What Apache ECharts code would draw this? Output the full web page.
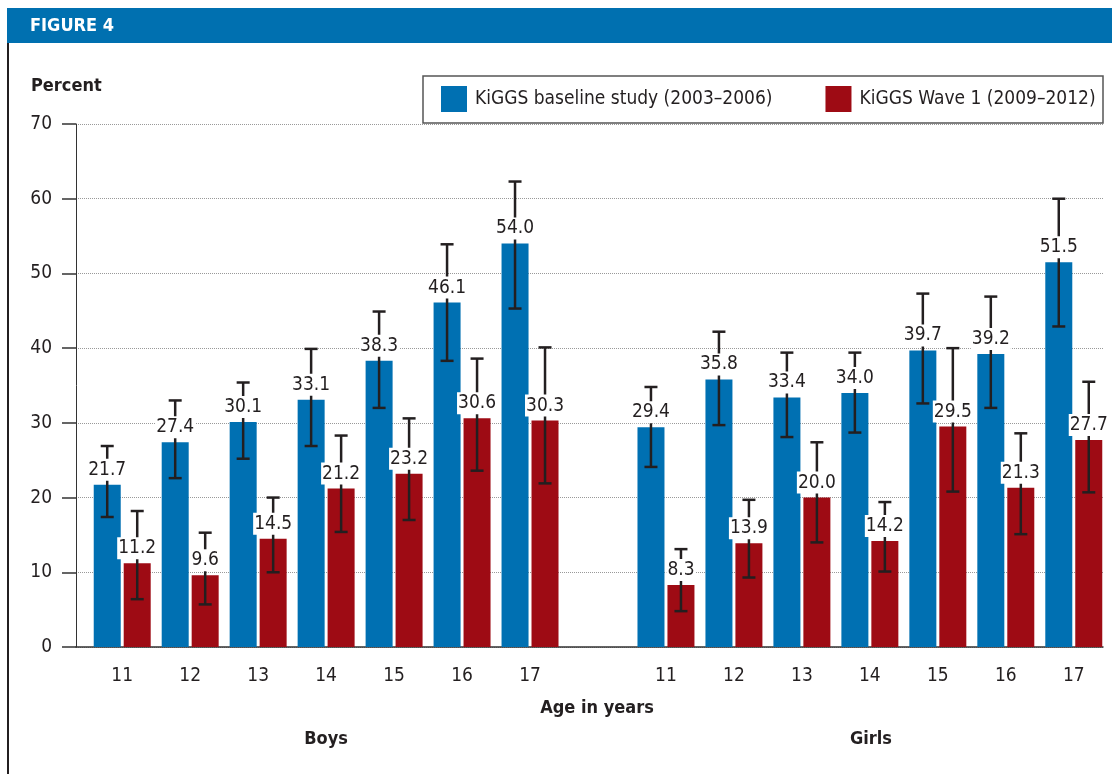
<!DOCTYPE html>
<html>
<head>
    <meta charset="UTF-8"/>
    <title>Figure 4</title>
    <script type="text/javascript" src="https://cdn.jsdelivr.net/npm/echarts@6/dist/echarts.min.js"></script>
    <style>
        html, body { margin: 0; padding: 0; background: #fff; }
        #chart { width: 1112px; height: 774px; }
    </style>
</head>
<body>
<div id="chart"></div>
<script>
    // boys 11-17, empty slot, girls 11-17
    var ages = ['11', '12', '13', '14', '15', '16', '17', '', '11', '12', '13', '14', '15', '16', '17'];
    var baseline = [21.7, 27.4, 30.1, 33.1, 38.3, 46.1, 54.0, null, 29.4, 35.8, 33.4, 34.0, 39.7, 39.2, 51.5];
    var baselineLow = [17.4, 22.6, 25.2, 26.9, 32.0, 38.3, 45.3, null, 24.1, 29.7, 28.1, 28.7, 32.6, 32.0, 42.9];
    var baselineHigh = [26.9, 33.0, 35.4, 39.9, 44.9, 53.9, 62.3, null, 34.8, 42.2, 39.4, 39.4, 47.3, 46.9, 60.0];
    var wave1 = [11.2, 9.6, 14.5, 21.2, 23.2, 30.6, 30.3, null, 8.3, 13.9, 20.0, 14.2, 29.5, 21.3, 27.7];
    var wave1Low = [6.4, 5.7, 10.0, 15.4, 17.0, 23.6, 21.9, null, 4.8, 9.3, 14.0, 10.1, 20.8, 15.1, 20.7];
    var wave1High = [18.2, 15.3, 20.0, 28.3, 30.6, 38.6, 40.1, null, 13.1, 19.7, 27.4, 19.4, 40.0, 28.6, 35.5];
    var seriesNames = ['KiGGS baseline study (2003\u20132006)', 'KiGGS Wave 1 (2009\u20132012)'];

    var FONT = '"Liberation Sans Narrow", "DejaVu Sans Condensed", sans-serif';
    var INK = '#231f20';
    var BLUE = '#0070b2';
    var RED = '#9e0b14';

    function barData(vals) {
        var out = [];
        for (var i = 0; i < vals.length; i++) {
            if (vals[i] != null) out.push([i, vals[i]]);
        }
        return out;
    }
    function errData(vals, lo, hi) {
        var out = [];
        for (var i = 0; i < vals.length; i++) {
            if (vals[i] != null) out.push([i, lo[i], hi[i], vals[i]]);
        }
        return out;
    }
    var tickValues = [];
    for (var k = 0; k < ages.length; k++) {
        if (ages[k] !== '') tickValues.push(k);
    }

    // error bar + value label, shifted to sit on its bar
    function errRender(offset) {
        return function (params, api) {
            var x = api.value(0);
            var lo = api.coord([x, api.value(1)]);
            var hi = api.coord([x, api.value(2)]);
            var mid = api.coord([x, api.value(3)]);
            var cx = lo[0] + offset;
            var lineStyle = { stroke: INK, lineWidth: 2.5 };
            return {
                type: 'group',
                children: [
                    { type: 'line', shape: { x1: cx, y1: hi[1], x2: cx, y2: lo[1] }, style: lineStyle },
                    { type: 'line', shape: { x1: cx - 6.5, y1: hi[1], x2: cx + 6.5, y2: hi[1] }, style: lineStyle },
                    { type: 'line', shape: { x1: cx - 6.5, y1: lo[1], x2: cx + 6.5, y2: lo[1] }, style: lineStyle },
                    {
                        type: 'text',
                        style: {
                            text: api.value(3).toFixed(1),
                            x: cx, y: mid[1] - 15,
                            align: 'center', verticalAlign: 'middle',
                            fontFamily: FONT, fontSize: 19, fill: INK,
                            backgroundColor: '#fff', padding: [2, 1, 1, 1]
                        }
                    }
                ]
            };
        };
    }

    var titleText = { fontFamily: FONT, fontSize: 18, fontWeight: 'bold', color: INK };
    var chart = echarts.init(document.getElementById('chart'));
    chart.setOption({
        animation: false,
        textStyle: { fontFamily: FONT, color: INK },
        graphic: [
            { type: 'rect', shape: { x: 7, y: 8, width: 1105, height: 35 }, style: { fill: '#0070b0' } },
            { type: 'rect', shape: { x: 7, y: 43, width: 2, height: 731 }, style: { fill: INK } },
            { type: 'text', x: 30, y: 26, style: { text: 'FIGURE 4', fill: '#fff', fontFamily: FONT, fontSize: 18, fontWeight: 'bold', verticalAlign: 'middle' } },
            // legend frame
            { type: 'rect', shape: { x: 423, y: 76, width: 680, height: 47 }, style: { fill: 'none', stroke: '#555', lineWidth: 1.5 } }
        ],
        title: [
            { text: 'Percent', left: 31, top: 77, padding: 0, textStyle: titleText },
            { text: 'Age in years', left: 597, top: 699, padding: 0, textAlign: 'center', textStyle: titleText },
            { text: 'Boys', left: 326, top: 730, padding: 0, textAlign: 'center', textStyle: titleText },
            { text: 'Girls', left: 871, top: 730, padding: 0, textAlign: 'center', textStyle: titleText }
        ],
        legend: {
            orient: 'horizontal',
            left: 441, top: 86, padding: 0,
            itemWidth: 26, itemHeight: 26, itemGap: 53,
            icon: 'rect',
            textStyle: { fontFamily: FONT, fontSize: 19, color: INK, padding: [0, 0, 0, 3] },
            data: seriesNames
        },
        grid: { left: 76, right: 9, top: 124, bottom: 127 },
        xAxis: {
            type: 'value',
            min: -0.68, max: 14.43,
            axisLine: { show: true, onZero: false, lineStyle: { color: '#333', width: 1.5 } },
            axisTick: { show: false },
            splitLine: { show: false },
            axisLabel: {
                customValues: tickValues,
                formatter: function (v) { return ages[v]; },
                margin: 20,
                fontFamily: FONT, fontSize: 19, color: INK
            }
        },
        yAxis: {
            type: 'value',
            min: 0, max: 70, interval: 10,
            axisLine: { show: true, onZero: false, lineStyle: { color: '#333', width: 1 } },
            axisTick: { show: true, length: 14, lineStyle: { color: '#333', width: 1.5 } },
            axisLabel: { margin: 24, fontFamily: FONT, fontSize: 19, color: INK },
            splitLine: { show: true, lineStyle: { color: '#999', type: 'dotted', width: 1 } }
        },
        series: [
            {
                name: seriesNames[0], type: 'bar', z: 2,
                barWidth: 27, barGap: '11%',
                itemStyle: { color: BLUE },
                data: barData(baseline)
            },
            {
                name: seriesNames[1], type: 'bar', z: 2,
                barWidth: 27, barGap: '11%',
                itemStyle: { color: RED },
                data: barData(wave1)
            },
            {
                type: 'custom', z: 5,
                renderItem: errRender(-15),
                encode: { x: 0, y: [1, 2] },
                data: errData(baseline, baselineLow, baselineHigh)
            },
            {
                type: 'custom', z: 5,
                renderItem: errRender(15),
                encode: { x: 0, y: [1, 2] },
                data: errData(wave1, wave1Low, wave1High)
            }
        ]
    });
</script>
</body>
</html>
